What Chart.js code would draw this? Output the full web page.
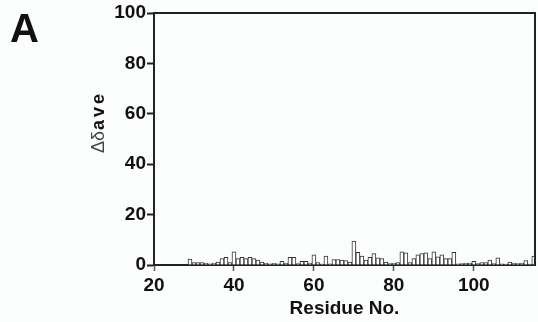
<!DOCTYPE html>
<html>
<head>
<meta charset="utf-8">
<script src="https://cdn.jsdelivr.net/npm/chart.js@4"></script>
<style>
  body { margin: 0; background: #fcfdfd; }
  #wrap { width: 538px; height: 322px; }
</style>
</head>
<body>
<div id="wrap"><canvas id="myChart" width="538" height="322"></canvas></div>
<script>
// residue numbers and chemical shift perturbation
const residues = [29, 30, 31, 32, 33, 34, 35, 36, 37, 38, 39, 40, 41, 42, 43, 44, 45, 46, 47, 48,
  49, 50, 51, 52, 53, 54, 55, 56, 57, 58, 59, 60, 61, 62, 63, 64, 65, 66, 67, 68,
  69, 70, 71, 72, 73, 74, 75, 76, 77, 78, 79, 80, 81, 82, 83, 84, 85, 86, 87, 88,
  89, 90, 91, 92, 93, 94, 95, 96, 97, 98, 99, 100, 101, 102, 103, 104, 105, 106, 107, 108,
  109, 110, 111, 112, 113, 114, 115];
const deltaAve = [2.3, 1.0, 1.0, 1.0, 0.8, 0.5, 0.8, 1.2, 2.5, 3.0, 1.0, 5.2, 2.5, 3.0, 2.5, 3.0, 2.5, 2.0, 1.2, 0.8,
  0.5, 0.7, 0.5, 1.5, 0.8, 3.0, 3.0, 0.6, 1.5, 1.5, 0.8, 4.0, 1.0, 0.4, 3.5, 0.5, 2.2, 2.2, 2.0, 1.8,
  1.2, 9.5, 5.0, 3.5, 2.0, 3.0, 4.5, 2.8, 2.5, 1.2, 0.6, 0.7, 1.0, 5.2, 4.8, 1.0, 2.5, 4.0, 4.5, 4.8,
  2.5, 5.2, 3.2, 4.0, 2.5, 2.5, 5.0, 0.5, 0.6, 0.8, 0.8, 1.5, 0.6, 1.0, 1.0, 2.0, 0.6, 2.8, 0.5, 0.4,
  1.2, 0.8, 0.6, 0.8, 1.8, 0.4, 3.5];
const xTicks = [20, 40, 60, 80, 100];
const yTicks = [0, 20, 40, 60, 80, 100];

const ctx = document.getElementById('myChart').getContext('2d');
const FONT = "'Liberation Sans', Arial, sans-serif";

// frame on top/right, panel letter and the y title with mixed weights
const extras = {
  id: 'extras',
  afterDraw(chart) {
    const c = chart.ctx;
    const a = chart.chartArea;
    c.save();
    c.strokeStyle = '#222';
    c.lineWidth = 2;
    c.beginPath();
    c.moveTo(a.left, a.top);
    c.lineTo(a.right, a.top);
    c.lineTo(a.right, a.bottom);
    c.stroke();

    c.fillStyle = '#111';
    c.font = 'bold 40px ' + FONT;
    c.textBaseline = 'alphabetic';
    c.fillText('A', 10, 42);

    // y axis title, rotated
    c.translate(104, 153);
    c.rotate(-Math.PI / 2);
    c.fillStyle = '#444';
    c.font = '18px ' + FONT;
    c.fillText('Δδ', 0, 0);
    let x = c.measureText('Δδ').width + 1;
    c.fillStyle = '#111';
    c.font = 'bold 18px ' + FONT;
    for (const ch of 'ave') {
      c.fillText(ch, x, 0);
      x += c.measureText(ch).width + 3;
    }
    c.restore();
  }
};

const myChart = new Chart(ctx, {
  type: 'bar',
  data: {
    datasets: [{
      label: 'Δδave',
      data: residues.map((r, i) => ({ x: r, y: deltaAve[i] })),
      backgroundColor: '#ffffff',
      borderColor: '#333',
      borderWidth: 1,
      barPercentage: 1,
      categoryPercentage: 1
    }]
  },
  options: {
    responsive: false,
    animation: false,
    layout: { padding: { left: 0, right: 3, top: 13, bottom: 0 } },
    plugins: {
      legend: { display: false },
      tooltip: { enabled: false }
    },
    scales: {
      x: {
        type: 'linear',
        offset: false,
        min: 20,
        max: 115.3,
        afterBuildTicks: (scale) => {
          scale.ticks = xTicks.map(v => ({ value: v }));
        },
        afterFit: (scale) => { scale.height = 57; },
        ticks: {
          color: '#111',
          padding: 3,
          font: { family: FONT, size: 19, weight: 'bold' }
        },
        grid: {
          offset: false,
          drawOnChartArea: false,
          drawTicks: true,
          tickLength: 6,
          tickColor: '#555',
          tickWidth: 1.5
        },
        border: { color: '#222', width: 2 },
        title: {
          display: true,
          text: 'Residue No.',
          color: '#111',
          padding: { top: 0, bottom: 2 },
          font: { family: FONT, size: 19, weight: 'bold' }
        }
      },
      y: {
        min: 0,
        max: 100,
        afterBuildTicks: (scale) => {
          scale.ticks = yTicks.map(v => ({ value: v }));
        },
        afterFit: (scale) => { scale.width = 154; },
        ticks: {
          color: '#111',
          padding: 1,
          font: { family: FONT, size: 19, weight: 'bold' }
        },
        grid: {
          drawOnChartArea: false,
          drawTicks: true,
          tickLength: 7,
          tickColor: '#222',
          tickWidth: 2
        },
        border: { color: '#222', width: 2 }
      }
    }
  },
  plugins: [extras]
});
</script>
</body>
</html>
